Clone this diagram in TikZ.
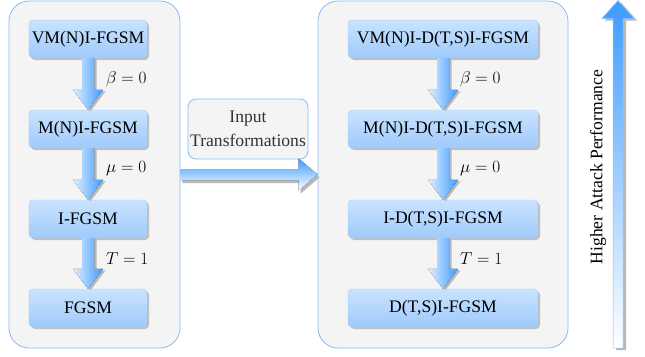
\documentclass[tikz,border=0pt]{standalone}
\usepackage{fontspec}
\setmainfont{Liberation Serif}
\usetikzlibrary{calc,shadows}
\definecolor{panelfill}{HTML}{F4F4F4}
\definecolor{paneldraw}{HTML}{86BDF7}
\definecolor{boxtop}{HTML}{C9E3FF}
\definecolor{boxbot}{HTML}{9FCAFB}
\definecolor{boxdraw}{HTML}{A8CFF7}
\definecolor{arrowblue}{HTML}{3D9BFF}
\definecolor{arrowlight}{HTML}{E2F0FF}
\definecolor{txtgray}{HTML}{333333}
\newcommand\arrowDownPath[4]{%
 ($(#1.south)+(-6+#3,#4)$) -- ($(#2.north)+(-6+#3,-20+#4)$) -- ($(#2.north)+(-15+#3,-20+#4)$) -- ($(#2.north)+(#3,#4)$) -- ($(#2.north)+(15+#3,-20+#4)$) -- ($(#2.north)+(6+#3,-20+#4)$) -- ($(#1.south)+(6+#3,#4)$) -- cycle}
\newcommand\drawDownArrow[2]{%
 \fill[black!28] \arrowDownPath{#1}{#2}{2.5}{1.5};
 \fill[left color=arrowlight, right color=arrowblue] \arrowDownPath{#1}{#2}{0}{0};}
\begin{document}
\begin{tikzpicture}[x=1bp,y=-1bp,
 panel/.style={draw=paneldraw, fill=panelfill, line width=0.8bp, rounded corners=20bp, minimum height=347bp, inner sep=0pt},
 algbox/.style={rounded corners=4bp, top color=boxtop, bottom color=boxbot, draw=boxdraw, line width=0.4bp, minimum height=38bp, inner sep=0pt, font=\fontsize{17.6bp}{20bp}\selectfont, text=black, drop shadow={shadow xshift=2bp, shadow yshift=-2bp, fill=black!45, opacity=0.5}},
 leftbox/.style={algbox, minimum width=118bp},
 rightbox/.style={algbox, minimum width=190bp},
 cond/.style={anchor=west, inner sep=0pt, text=black, font=\fontsize{16bp}{18bp}\selectfont},
 inputbox/.style={draw=paneldraw, fill=panelfill, line width=0.8bp, rounded corners=8bp, minimum width=120bp, minimum height=60bp, inner sep=0pt, align=center, text=txtgray, font=\fontsize{17.6bp}{24bp}\selectfont},
 sidelabel/.style={rotate=90, inner sep=0pt, text=black, font=\fontsize{17.6bp}{20bp}\selectfont}
]
\fill[white, use as bounding box] (0,0) rectangle (645,356);

% panels
\node[panel, minimum width=171bp] (lp) at (94.5,174.5) {};
\node[panel, minimum width=250bp] (rp) at (443,174.5) {};

% left boxes
\node[leftbox] (l1) at (88,39) {VM(N)I-FGSM};
\node[leftbox] (l2) at (88,129) {M(N)I-FGSM};
\node[leftbox] (l3) at (88,219) {I-FGSM};
\node[leftbox] (l4) at (88,308) {FGSM};

% right boxes
\node[rightbox] (r1) at (443,39) {VM(N)I-D(T,S)I-FGSM};
\node[rightbox] (r2) at (443,129) {M(N)I-D(T,S)I-FGSM};
\node[rightbox] (r3) at (443,219) {I-D(T,S)I-FGSM};
\node[rightbox] (r4) at (443,308) {D(T,S)I-FGSM};

% arrows
\drawDownArrow{l1}{l2}
\drawDownArrow{l2}{l3}
\drawDownArrow{l3}{l4}
\drawDownArrow{r1}{r2}
\drawDownArrow{r2}{r3}
\drawDownArrow{r3}{r4}

% conditions
\node[cond] (cl1) at ($(l1.south)!0.5!(l2.north)+(18,-5)$) {$\beta=0$};
\node[cond] (cl2) at ($(l2.south)!0.5!(l3.north)+(18,-5)$) {$\mu=0$};
\node[cond] (cl3) at ($(l3.south)!0.5!(l4.north)+(18,-5)$) {$T=1$};
\node[cond] (cr1) at ($(r1.south)!0.5!(r2.north)+(17,-5)$) {$\beta=0$};
\node[cond] (cr2) at ($(r2.south)!0.5!(r3.north)+(17,-5)$) {$\mu=0$};
\node[cond] (cr3) at ($(r3.south)!0.5!(r4.north)+(17,-5)$) {$T=1$};

% input transformations
\node[inputbox] (it) at (248,129) {Input\\Transformations};
\fill[black!28] ($(lp.east)+(2,-5.5+3)$) -- ($(rp.west)+(-19+2,-5.5+3)$) -- ($(rp.west)+(-19+2,-16+3)$) -- ($(rp.west)+(2,3)$) -- ($(rp.west)+(-19+2,16+3)$) -- ($(rp.west)+(-19+2,5.5+3)$) -- ($(lp.east)+(2,5.5+3)$) -- cycle;
\fill[top color=arrowblue, bottom color=white] ($(lp.east)+(0,-5.5)$) -- ($(rp.west)+(-19,-5.5)$) -- ($(rp.west)+(-19,-16)$) -- (rp.west) -- ($(rp.west)+(-19,16)$) -- ($(rp.west)+(-19,5.5)$) -- ($(lp.east)+(0,5.5)$) -- cycle;

% performance arrow
\coordinate (hb) at (618,348);
\coordinate (ht) at (618,0.5);
\fill[black!28] ($(hb)+(-5+3,2)$) -- ($(ht)+(-5+3,18+2)$) -- ($(ht)+(-16+3,18+2)$) -- ($(ht)+(3,2)$) -- ($(ht)+(16+3,18+2)$) -- ($(ht)+(5+3,18+2)$) -- ($(hb)+(5+3,2)$) -- cycle;
\path[top color=arrowblue, bottom color=white, draw=arrowblue!60, line width=0.5bp] ($(hb)+(-5,0)$) -- ($(ht)+(-5,18)$) -- ($(ht)+(-16,18)$) -- (ht) -- ($(ht)+(16,18)$) -- ($(ht)+(5,18)$) -- ($(hb)+(5,0)$) -- cycle;
\node[sidelabel] (hl) at (598,167) {Higher Attack Performance};
\end{tikzpicture}
\end{document}
